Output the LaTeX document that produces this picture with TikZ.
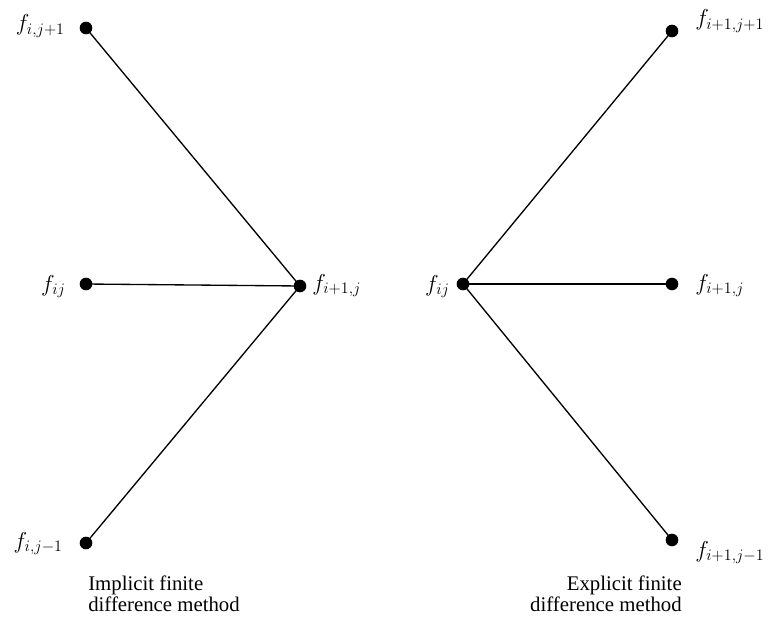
\documentclass[tikz,border=0pt]{standalone}
\usepackage{fontspec}
\setmainfont{Liberation Serif}
\DeclareMathSizes{18.5}{18.5}{13}{10}
\begin{document}
\begin{tikzpicture}[x=0.75pt,y=-0.75pt,
  pt/.style={circle,fill=black,inner sep=0pt,minimum size=9.5pt},
  lab/.style={font=\fontsize{18.5}{20}\selectfont,inner sep=0pt},
  captxt/.style={font=\fontsize{15.6}{15.5}\selectfont,inner sep=0pt,align=left},
  conn/.style={line width=1pt}]
\useasboundingbox (0,0) rectangle (771,621);
% left: implicit
\node[pt] (a1) at (86,28) {};
\node[pt] (a2) at (86,284) {};
\node[pt] (a3) at (86,543) {};
\node[pt] (a4) at (300,286) {};
\draw[conn] (a1.center) -- (a4.center);
\draw[conn] (a2.center) -- (a4.center);
\draw[conn] (a3.center) -- (a4.center);
\node[lab,anchor=base east] (la1) at (65,31) {$f_{i,j+1}$};
\node[lab,anchor=base east] (la2) at (66,291) {$f_{ij}$};
\node[lab,anchor=base west] (la4) at (312,290) {$f_{i+1,j}$};
\node[lab,anchor=base east] (la3) at (63,548) {$f_{i,j-1}$};
\node[captxt,anchor=north west] (ca) at (88,576) {Implicit finite\\difference method};
% right: explicit
\node[pt] (b0) at (463,284) {};
\node[pt] (b1) at (672,31) {};
\node[pt] (b2) at (672,284) {};
\node[pt] (b3) at (672,540) {};
\draw[conn] (b0.center) -- (b1.center);
\draw[conn] (b0.center) -- (b2.center);
\draw[conn] (b0.center) -- (b3.center);
\node[lab,anchor=base east] (lb0) at (450,291) {$f_{ij}$};
\node[lab,anchor=base west] (lb1) at (695,26) {$f_{i+1,j+1}$};
\node[lab,anchor=base west] (lb2) at (695,290) {$f_{i+1,j}$};
\node[lab,anchor=base west] (lb3) at (695,557) {$f_{i+1,j-1}$};
\node[captxt,anchor=north east,align=right] (cb) at (682,576) {Explicit finite\\difference method};
\end{tikzpicture}
\end{document}
